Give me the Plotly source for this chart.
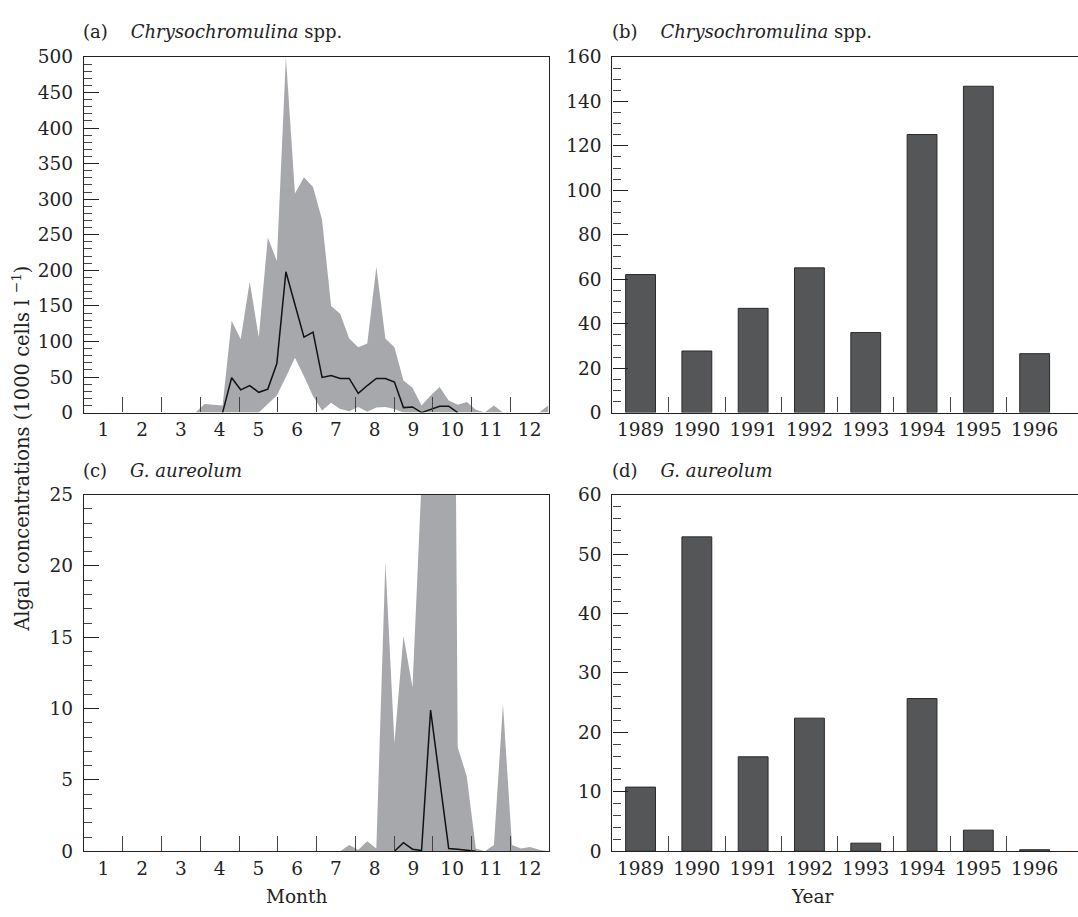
import plotly.graph_objects as go

# ---------------- data ----------------
weeks = list(range(1, 53))
# week -> month position on the seasonal axis
month_pos = [0.342 + 0.2334 * w for w in weeks]

# Panel (a) Chrysochromulina spp. weekly envelope (max/min) and median, 1000 cells/l
chry_upper = [0, 0, 0, 0, 0, 0, 0, 0, 0, 0, 0, 0, 0, 12, 11, 10,
              129, 103, 184, 106, 246, 213, 500, 308, 331, 317, 271, 150,
              139, 104, 92, 97, 205, 104, 92, 45, 35, 10, 24, 36,
              17, 11, 15, 4, 0, 10, 0, 0, 0, 0, 0, 10]
chry_lower = [0, 0, 0, 0, 0, 0, 0, 0, 0, 0, 0, 0, 0, 0, 0, 0,
              0, 0, 0, 0, 12, 24, 50, 77, 51, 23, 3, 14,
              5, 2, 8, 1, 7, 8, 5, 0, 0, 0, 0, 0,
              0, 0, 0, 0, 0, 0, 0, 0, 0, 0, 0, 0]
chry_median = [None] * 15 + [0, 49, 32, 38, 28.5, 33, 69, 198, 152, 106, 113,
                             49.5, 52, 48, 48, 27, 38, 48, 48, 43, 7, 8, 0,
                             5, 9, 9, 0] + [None] * 10

# Panel (c) G. aureolum
gaur_upper = [0] * 28 + [0, 0.45, 0.1, 0.7, 0.2, 20.3, 7.6, 15.1, 11.5, 26,
                         60, 80, 100, 7.3, 5.25, 0.2, 0, 0.45, 10.3, 0.45,
                         0.2, 0.3, 0.1, 0]
gaur_lower = [0] * 52
gaur_median = [None] * 34 + [0, 0.6, 0.15, 0.05, 9.9, 5.0, 0.2, 0.15, 0.1, 0.0] + [None] * 8

# Panels (b), (d) yearly means
years = [1989, 1990, 1991, 1992, 1993, 1994, 1995, 1996]
chry_year = [62.1, 27.7, 46.9, 65.1, 36.0, 125.1, 146.8, 26.5]
gaur_year = [10.8, 52.9, 15.9, 22.4, 1.37, 25.7, 3.56, 0.27]

month_labels = [str(m) for m in range(1, 13)]
year_labels = [str(y) for y in years]

# ---------------- styling ----------------
W, H = 1078, 917
FONT = "DejaVu Serif"
FILL = "#a7a8ab"
BAR = "#555658"
AX = "#222222"


def px_x(p):
    return p / W


def px_y(p):
    return 1 - p / H


fig = go.Figure()

# (a)
fig.add_trace(go.Scatter(x=month_pos, y=chry_lower, mode="lines", line=dict(width=0),
                         showlegend=False, hoverinfo="skip", xaxis="x", yaxis="y"))
fig.add_trace(go.Scatter(x=month_pos, y=chry_upper, mode="lines", line=dict(width=0),
                         fill="tonexty", fillcolor=FILL, showlegend=False, xaxis="x", yaxis="y"))
fig.add_trace(go.Scatter(x=month_pos, y=chry_median, mode="lines",
                         line=dict(color="#111111", width=1.5), connectgaps=False,
                         showlegend=False, xaxis="x", yaxis="y"))
# (b)
fig.add_trace(go.Bar(x=years, y=chry_year, width=0.53, marker=dict(color=BAR, line=dict(color="#2a2a2a", width=1)),
                     showlegend=False, xaxis="x2", yaxis="y2"))
# (c)
fig.add_trace(go.Scatter(x=month_pos, y=gaur_lower, mode="lines", line=dict(width=0),
                         showlegend=False, hoverinfo="skip", xaxis="x3", yaxis="y3"))
fig.add_trace(go.Scatter(x=month_pos, y=gaur_upper, mode="lines", line=dict(width=0),
                         fill="tonexty", fillcolor=FILL, showlegend=False, xaxis="x3", yaxis="y3"))
fig.add_trace(go.Scatter(x=month_pos, y=gaur_median, mode="lines",
                         line=dict(color="#111111", width=1.5), connectgaps=False,
                         showlegend=False, xaxis="x3", yaxis="y3"))
# (d)
fig.add_trace(go.Bar(x=years, y=gaur_year, width=0.53, marker=dict(color=BAR, line=dict(color="#2a2a2a", width=1)),
                     showlegend=False, xaxis="x4", yaxis="y4"))

tickfont = dict(family=FONT, size=18.5, color=AX)

month_x = dict(range=[0.5, 12.5], tickmode="array", tickvals=list(range(1, 13)), ticktext=month_labels,
               ticks="", showgrid=False, zeroline=False, showline=True, linecolor=AX, linewidth=1.4,
               mirror=True, tickfont=tickfont,
               minor=dict(tickmode="array", tickvals=[m + 0.5 for m in range(1, 12)], ticks="inside",
                          ticklen=15, tickcolor="#444", tickwidth=1.2, showgrid=False))
year_x = dict(range=[1988.5, 1996.77], tickmode="array", tickvals=years, ticktext=year_labels,
              ticks="", showgrid=False, zeroline=False, showline=True, linecolor=AX, linewidth=1.4,
              mirror=True, tickfont=tickfont,
              minor=dict(tickmode="array", tickvals=[y + 0.5 for y in years[:-1]], ticks="inside",
                         ticklen=15, tickcolor="#444", tickwidth=1.2, showgrid=False))


def yax(rng, dt, mdt):
    return dict(range=rng, dtick=dt, tick0=0, ticks="inside", ticklen=15, tickwidth=1.2, tickcolor=AX,
                showgrid=False, zeroline=False, showline=True, linecolor=AX, linewidth=1.4,
                tickfont=tickfont, ticklabelstandoff=6,
                minor=dict(dtick=mdt, tick0=0, ticks="inside", ticklen=8, tickwidth=1, tickcolor="#444",
                           showgrid=False))


top_dom = [px_y(411), px_y(47)]
bot_dom = [px_y(860), px_y(495)]
left_dom = [px_x(84), px_x(549)]
right_dom = [px_x(612.4), 1.0]

fig.update_layout(
    width=W, height=H, margin=dict(l=0, r=0, t=0, b=0),
    paper_bgcolor="white", plot_bgcolor="white",
    font=dict(family=FONT, size=18, color=AX),
    bargap=0.4,
    xaxis=dict(domain=left_dom, anchor="y", **month_x),
    yaxis=dict(domain=top_dom, anchor="x", **yax([0, 500], 50, 10)),
    xaxis2=dict(domain=right_dom, anchor="y2", **year_x),
    yaxis2=dict(domain=top_dom, anchor="x2", **yax([0, 160], 20, 5)),
    xaxis3=dict(domain=left_dom, anchor="y3", **month_x),
    yaxis3=dict(domain=bot_dom, anchor="x3", **yax([0, 25], 5, 1)),
    xaxis4=dict(domain=right_dom, anchor="y4", **year_x),
    yaxis4=dict(domain=bot_dom, anchor="x4", **yax([0, 60], 10, 2)),
)
fig.update_yaxes(mirror=True, selector=dict(anchor="x"))
fig.update_yaxes(mirror=True, selector=dict(anchor="x3"))

sp = "\u00a0" * 4
ann = [
    dict(x=px_x(81), y=px_y(21), text="(a)" + sp + "<i>Chrysochromulina</i> spp."),
    dict(x=px_x(610), y=px_y(21), text="(b)" + sp + "<i>Chrysochromulina</i> spp."),
    dict(x=px_x(81), y=px_y(470), text="(c)" + sp + "<i>G. aureolum</i>"),
    dict(x=px_x(610), y=px_y(470), text="(d)" + sp + "<i>G. aureolum</i>"),
]
for a in ann:
    fig.add_annotation(xref="paper", yref="paper", xanchor="left", yanchor="middle", showarrow=False,
                       font=dict(family=FONT, size=18, color=AX), **a)

fig.add_annotation(xref="paper", yref="paper", x=px_x(297), y=px_y(906), text="Month", showarrow=False,
                   xanchor="center", yanchor="middle", font=dict(family=FONT, size=18.5, color=AX))
fig.add_annotation(xref="paper", yref="paper", x=px_x(812), y=px_y(906), text="Year", showarrow=False,
                   xanchor="center", yanchor="middle", font=dict(family=FONT, size=18.5, color=AX))
fig.add_annotation(xref="paper", yref="paper", x=px_x(21), y=px_y(448), textangle=-90,
                   text="Algal concentrations (1000 cells l <sup>\u22121</sup>)", showarrow=False,
                   xanchor="center", yanchor="middle", font=dict(family=FONT, size=19.5, color=AX))

fig.write_html("out.html")
